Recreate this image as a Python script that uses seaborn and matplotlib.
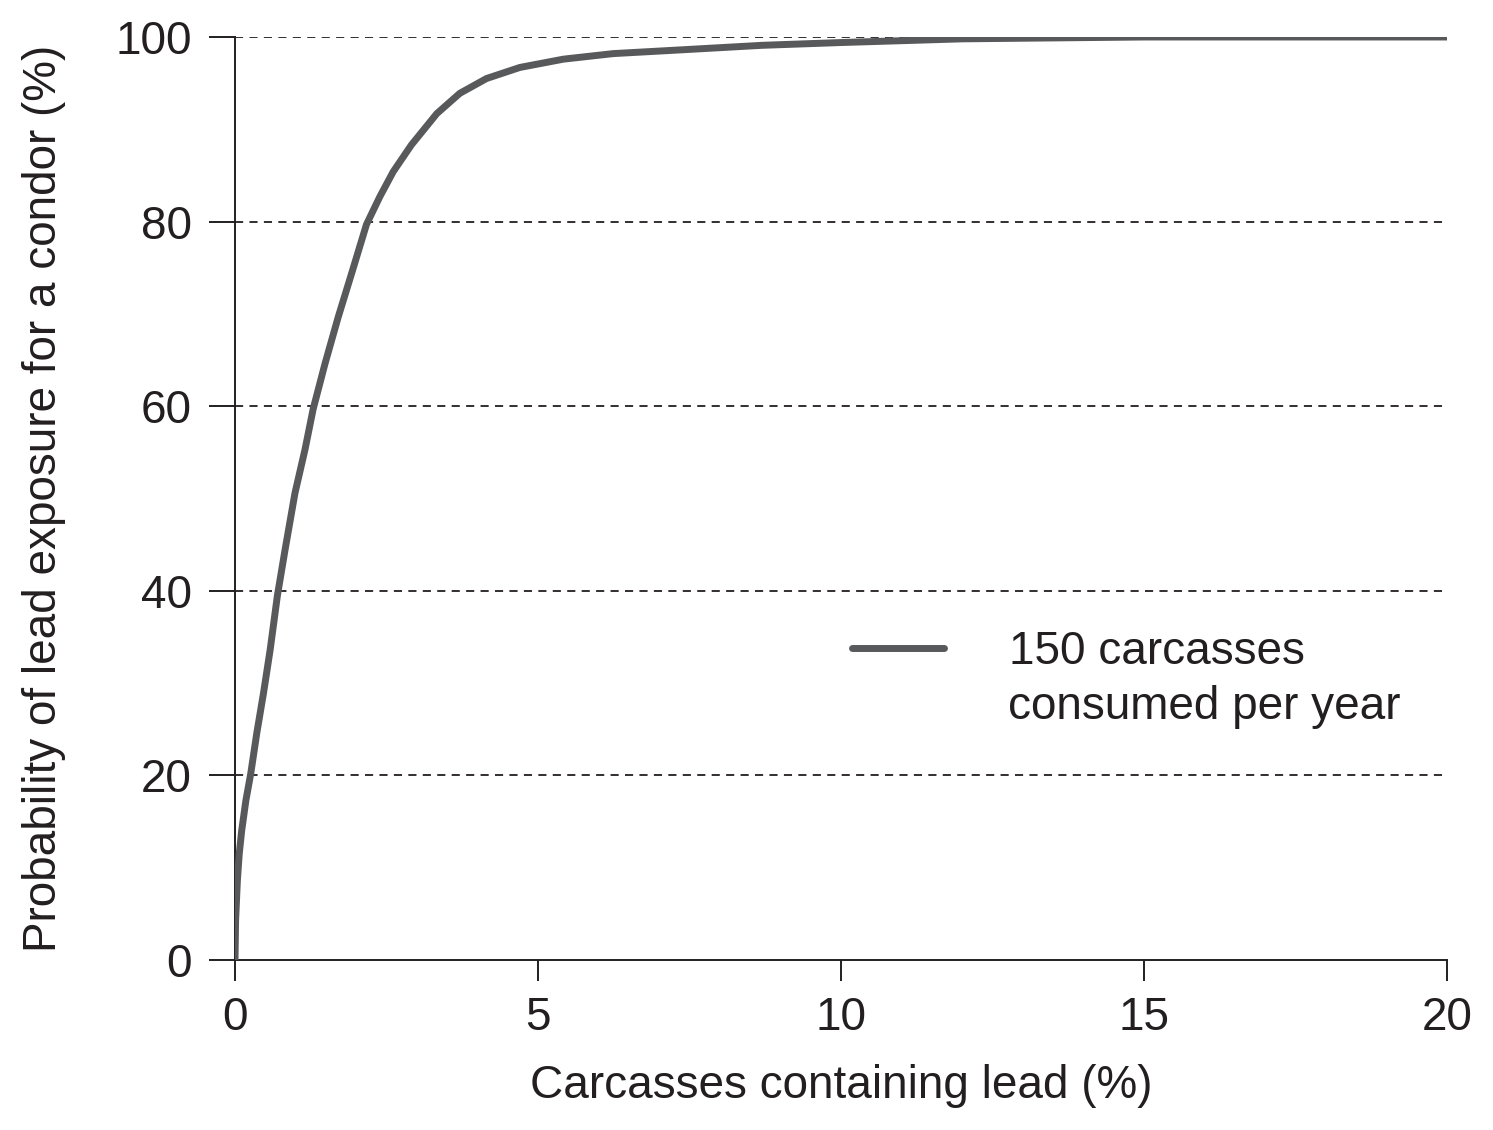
import numpy as np
import pandas as pd
import matplotlib
matplotlib.use("Agg")
import matplotlib.pyplot as plt
import seaborn as sns

# Data
lead_pct = [0, 0.01, 0.04, 0.07, 0.11, 0.18, 0.26, 0.36, 0.47, 0.58, 0.70, 0.825, 0.99,
            1.155, 1.29, 1.485, 1.705, 1.925, 2.17, 2.39, 2.61, 2.91, 3.33, 3.71, 4.15,
            4.70, 5.42, 6.24, 7.34, 8.7, 10, 12, 15, 20]
exposure_pct = [0, 4.3, 8.7, 11.5, 14.0, 17.3, 20.2, 24.6, 28.9, 33.6, 39.5, 44.4, 50.6,
                55.3, 59.7, 64.6, 69.7, 74.4, 79.7, 82.7, 85.4, 88.3, 91.7, 93.9, 95.5,
                96.7, 97.6, 98.2, 98.6, 99.1, 99.4, 99.8, 100, 100]
x_ticks = [0, 5, 10, 15, 20]
y_ticks = [0, 20, 40, 60, 80, 100]
legend_line1 = "150 carcasses"
legend_line2 = "consumed per year"
x_label = "Carcasses containing lead (%)"
y_label = "Probability of lead exposure for a condor (%)"

df = pd.DataFrame({"x": lead_pct, "y": exposure_pct})

sns.set_style("ticks")
plt.rcParams["font.family"] = ["Liberation Sans", "DejaVu Sans"]

INK = "#231f20"
FS = 33
W, H = 1493, 1130
fig = plt.figure(figsize=(W / 100, H / 100), dpi=100)
ax = fig.add_axes([235 / W, 1 - 960 / H, (1447 - 235) / W, (960 - 37) / H])

for yv in y_ticks[1:]:
    ax.axhline(yv, color=INK, lw=1.3, ls=(0, (4.5, 3.5)), zorder=1)

sns.lineplot(data=df, x="x", y="y", ax=ax, color="#58595b", lw=5, zorder=3,
             label=legend_line1, solid_capstyle="round", solid_joinstyle="round")

ax.set_xlim(0, 20)
ax.set_ylim(0, 100)
ax.set_xticks(x_ticks)
ax.set_yticks(y_ticks)
ax.tick_params(axis="both", labelsize=FS, width=1.4, color=INK, labelcolor=INK)
ax.tick_params(axis="x", length=15, pad=11)
ax.tick_params(axis="y", length=19, pad=12)
for s in ["top", "right"]:
    ax.spines[s].set_visible(False)
for s in ["left", "bottom"]:
    ax.spines[s].set_linewidth(1.4)
    ax.spines[s].set_color(INK)

ax.set_xlabel(x_label, fontsize=FS, color=INK)
ax.set_ylabel(y_label, fontsize=FS, color=INK)
ax.xaxis.set_label_coords(0.5, (960 - 1064) / 923)
ax.yaxis.set_label_coords((66 - 235) / 1212, 0.5)

leg = ax.legend(loc="center left", bbox_to_anchor=((852 - 235) / 1212, (960 - 652) / 923),
                frameon=False, fontsize=FS, handlelength=2.0, handletextpad=1.42,
                borderpad=0, borderaxespad=0)
for t in leg.get_texts():
    t.set_color(INK)
fig.text(1008 / W, 1 - 707 / H, legend_line2, fontsize=FS, color=INK, va="center", ha="left")

fig.savefig("out.png", dpi=100)
